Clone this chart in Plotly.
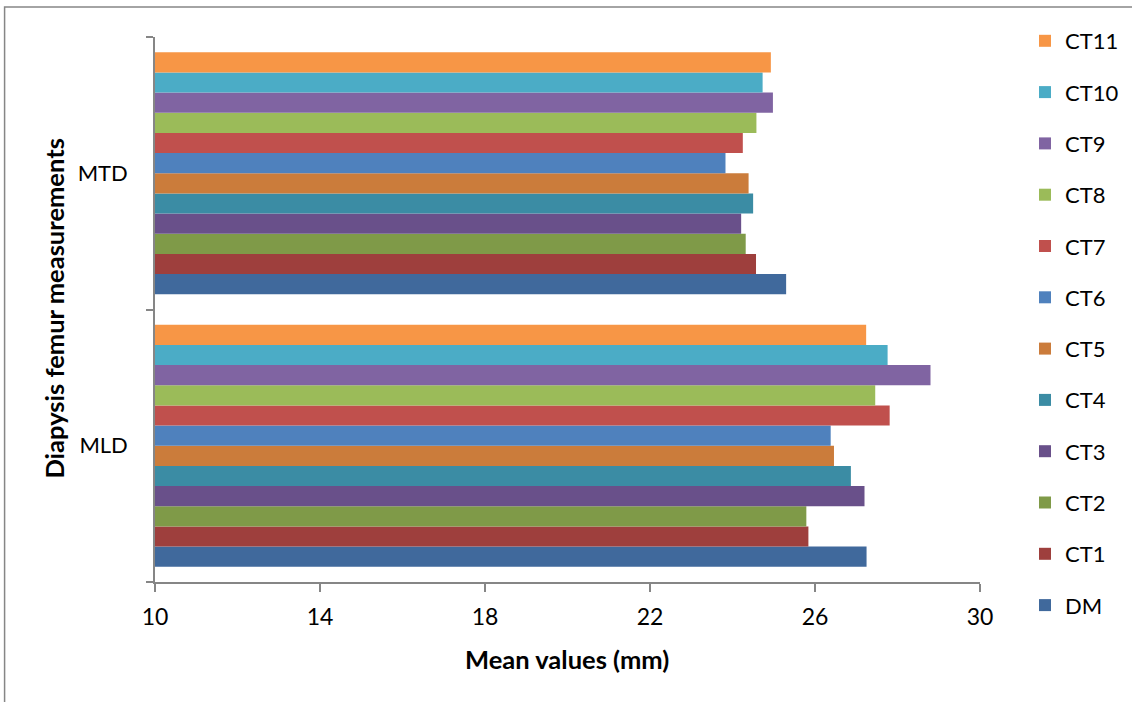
import plotly.graph_objects as go

# Femur diaphysis measurements (categories bottom to top)
measurements = ["MLD", "MTD"]

# Series in drawing order: DM first (bottom of each group), CT11 last (top)
series_names = ["DM", "CT1", "CT2", "CT3", "CT4", "CT5",
                "CT6", "CT7", "CT8", "CT9", "CT10", "CT11"]

# Mean values (mm): [MLD, MTD]
dm = [27.25, 25.30]
ct1 = [25.84, 24.57]
ct2 = [25.79, 24.32]
ct3 = [27.20, 24.21]
ct4 = [26.87, 24.50]
ct5 = [26.46, 24.39]
ct6 = [26.38, 23.83]
ct7 = [27.81, 24.25]
ct8 = [27.46, 24.58]
ct9 = [28.80, 24.98]
ct10 = [27.76, 24.73]
ct11 = [27.24, 24.93]

series_values = [dm, ct1, ct2, ct3, ct4, ct5, ct6, ct7, ct8, ct9, ct10, ct11]

series_colors = ["#40699C", "#9E3F3D", "#7F9A48", "#69508A", "#3B8CA4", "#CB7C3B",
                 "#4F81BD", "#C0504D", "#9BBB59", "#8064A2", "#4BACC6", "#F79646"]

x_ticks = [10, 14, 18, 22, 26, 30]

FONT = "Lato, 'Open Sans', sans-serif"
AXIS_GREY = "#868686"

fig = go.Figure()
n = len(series_names)
for i, (name, vals, col) in enumerate(zip(series_names, series_values, series_colors)):
    fig.add_trace(go.Bar(
        y=measurements, x=vals, name=name, orientation="h",
        marker=dict(color=col, line=dict(width=0)),
        legendgroup=name,
        legendrank=n - i,  # CT11 listed first, DM last
    ))

# plot area in pixels
L, R, T, B = 154.5, 980.0, 37.0, 582.0
W, H = 1132, 702
pw, ph = R - L, B - T


def px_x(p):
    return (p - L) / pw


def px_y(p):
    return (B - p) / ph


fig.update_layout(
    width=W, height=H,
    margin=dict(l=L, r=W - R, t=T, b=H - B, pad=0, autoexpand=False),
    paper_bgcolor="white", plot_bgcolor="white",
    barmode="group", bargap=0.112, bargroupgap=0,
    font=dict(family=FONT, size=22, color="#000000"),
    showlegend=True,
    legend=dict(
        traceorder="grouped",
        tracegroupgap=19.7,
        x=px_x(1025), xanchor="left",
        y=px_y(20), yanchor="top",
        maxheight=700,
        font=dict(family=FONT, size=22, color="#000000"),
        bgcolor="rgba(0,0,0,0)",
    ),
    xaxis=dict(
        range=[10, 30], tickvals=x_ticks, ticktext=[str(v) for v in x_ticks],
        showgrid=False, zeroline=False,
        showline=True, linecolor=AXIS_GREY, linewidth=1.5,
        ticks="outside", ticklen=8, tickcolor=AXIS_GREY, tickwidth=1.5,
        ticklabelstandoff=6,
        tickfont=dict(family=FONT, size=23, color="#000000"),
    ),
    yaxis=dict(
        categoryorder="array", categoryarray=measurements,
        showgrid=False, zeroline=False,
        showline=True, linecolor=AXIS_GREY, linewidth=1.5,
        ticks="outside", ticklen=7, tickcolor=AXIS_GREY, tickwidth=1.5,
        tickson="boundaries", ticklabelstandoff=21,
        tickfont=dict(family=FONT, size=22, color="#000000"),
    ),
    annotations=[
        dict(text="<b>Mean values (mm)</b>", xref="paper", yref="paper",
             x=px_x(567), y=px_y(659), xanchor="center", yanchor="middle",
             showarrow=False, font=dict(family=FONT, size=25.5, color="#000000")),
        dict(text="<b>Diapysis femur measurements</b>", xref="paper", yref="paper",
             x=px_x(53), y=px_y(309), xanchor="center", yanchor="middle",
             textangle=-90, showarrow=False,
             font=dict(family=FONT, size=25.5, color="#000000")),
    ],
    shapes=[
        dict(type="rect", xref="paper", yref="paper", layer="below",
             x0=px_x(4), x1=px_x(1145), y0=px_y(720), y1=px_y(7),
             line=dict(color=AXIS_GREY, width=1.5), fillcolor="rgba(0,0,0,0)"),
    ],
)

fig.write_html("out.html")
